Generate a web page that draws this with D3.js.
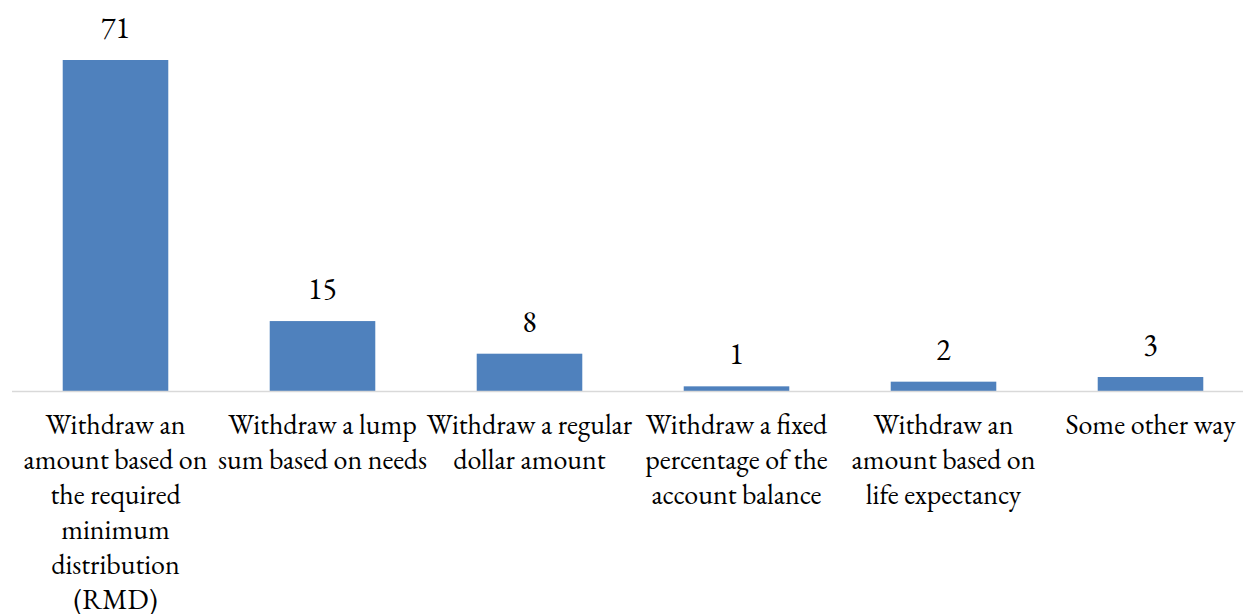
<!DOCTYPE html>
<html>
<head>
<meta charset="utf-8">
<script src="https://cdn.jsdelivr.net/npm/d3@7"></script>
<style>
  body { margin: 0; background: #fff; }
</style>
</head>
<body>
<svg class="chart"></svg>
<script>
// chart data
var categories = ["rmd", "lump", "regular", "fixed", "life", "other"];
var values = [71, 15, 8, 1, 2, 3];
var labelLines = [
  ["Withdraw an", "amount based on", "the required", "minimum", "distribution", "(RMD)"],
  ["Withdraw a lump", "sum based on needs"],
  ["Withdraw a regular", "dollar amount"],
  ["Withdraw a fixed", "percentage of the", "account balance"],
  ["Withdraw an", "amount based on", "life expectancy"],
  ["Some other way"]
];

const W = 1243, H = 614;
const margin = {top: 60, left: 12, right: 0};
const baseY = 391;
const barColor = "#4f81bd";
const serif = "'EB Garamond', 'Liberation Serif', serif";

var svg = d3.select('.chart').attr('width', W).attr('height', H);

var x = d3.scaleBand()
  .domain(categories)
  .range([12, 1254])
  .paddingInner(0.49)
  .paddingOuter(0.245);

var y = d3.scaleLinear()
  .domain([0, 71])
  .range([baseY, margin.top]);

var data = categories.map((c, i) => ({key: c, value: values[i], lines: labelLines[i]}));

// bars
svg.selectAll('rect.bar')
  .data(data)
  .enter()
  .append('rect')
  .attr('class', 'bar')
  .attr('x', d => x(d.key))
  .attr('y', d => y(d.value))
  .attr('width', x.bandwidth())
  .attr('height', d => baseY - y(d.value))
  .attr('fill', barColor);

// baseline
svg.append('line')
  .attr('x1', margin.left).attr('x2', W)
  .attr('y1', baseY + 0.5).attr('y2', baseY + 0.5)
  .attr('stroke', '#d9d9d9')
  .attr('stroke-width', 1.5);

// value labels
svg.selectAll('text.val')
  .data(data)
  .enter()
  .append('text')
  .attr('class', 'val')
  .attr('x', d => x(d.key) + x.bandwidth() / 2)
  .attr('y', d => y(d.value) - 22)
  .attr('text-anchor', 'middle')
  .style('font-family', serif)
  .style('font-size', '30px')
  .style('fill', '#000')
  .text(d => d.value);

// category labels
var lab = svg.selectAll('text.cat')
  .data(data)
  .enter()
  .append('text')
  .attr('class', 'cat')
  .attr('text-anchor', 'middle')
  .style('font-family', serif)
  .style('font-size', '28px')
  .style('fill', '#000');

lab.selectAll('tspan')
  .data(d => d.lines.map(l => ({l, cx: x(d.key) + x.bandwidth() / 2})))
  .enter()
  .append('tspan')
  .attr('x', d => d.cx)
  .attr('y', (d, i) => 434 + i * 35)
  .text(d => d.l);
</script>
</body>
</html>
